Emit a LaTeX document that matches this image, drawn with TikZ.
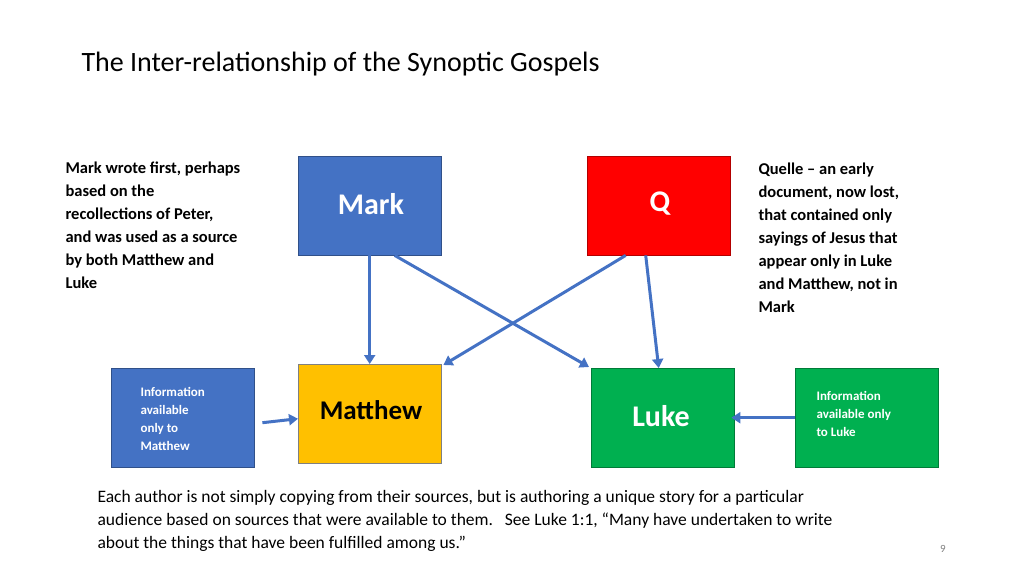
\documentclass[tikz,border=0pt]{standalone}
\usepackage{fontspec}
\setmainfont{Carlito}
\usetikzlibrary{arrows.meta}
\definecolor{slblue}{HTML}{4472C4}
\definecolor{slred}{HTML}{FF0000}
\definecolor{slgold}{HTML}{FFC000}
\definecolor{slgreen}{HTML}{00B050}
\begin{document}
\begin{tikzpicture}[
    x=1pt, y=-1pt,
    % slide boxes
    box/.style={draw=#1!70!black, fill=#1, minimum width=143pt, minimum height=99pt, inner sep=0pt},
    big/.style={font=\fontsize{30}{34}\selectfont\bfseries, text=white},
    info/.style={font=\fontsize{13}{18}\selectfont\bfseries, text=white, align=left, anchor=north west},
    note/.style={font=\fontsize{16.5}{23}\selectfont\bfseries, align=left, anchor=north west},
    link/.style={draw=slblue, line width=3pt, -{Triangle[length=9pt,width=11pt]}}
]
\useasboundingbox (0,0) rectangle (1024,576);

% --- Title ---
\node[anchor=west, font=\fontsize{28}{32}\selectfont] (title) at (78,64) {The Inter-relationship of the Synoptic Gospels};

% --- Sources ---
\node[box=slblue, anchor=north west] (mark) at (298,156) {};
\node[big] at (371,204) {Mark};
\node[box=slred, anchor=north west] (q) at (587,156) {};
\node[big] at (660,204) {Q};

% --- Gospels ---
\node[box=slgold, draw=gray, anchor=north west] (matthew) at (298,364) {};
\node[font=\fontsize{27}{30}\selectfont\bfseries] at (371,410) {Matthew};
\node[box=slgreen, anchor=north west] (luke) at (591,368) {};
\node[big] at (661,416) {Luke};

% --- Special material ---
\node[box=slblue, anchor=north west] (infomt) at (111,368) {};
\node[info] at (137,384) {Information\\available\\only to\\Matthew};
\node[box=slgreen, anchor=north west] (infolk) at (795,368) {};
\node[info] at (813,388) {Information\\available only\\to Luke};

% --- Arrows ---
\draw[link] (mark.south) -- (matthew.north);
\draw[link] ([xshift=25pt]mark.south) -- ([xshift=-2pt,yshift=1pt]luke.north west);
\draw[link] ([xshift=-33pt]q.south) -- ([xshift=2pt,yshift=-1pt]matthew.north east);
\draw[link] ([xshift=-13pt]q.south) -- ([xshift=-4pt]luke.north);
\draw[link] ([xshift=8pt,yshift=-5pt]infomt.east) -- ([yshift=-5pt]matthew.west);
\draw[link] (infolk.west) -- ([xshift=-3pt]luke.east);

% --- Notes ---
\node[note] (lnote) at (62,158) {Mark wrote first, perhaps\\based on the\\recollections of Peter,\\and was used as a source\\by both Matthew and\\Luke};
\node[note] (rnote) at (755,159) {Quelle -- an early\\document, now lost,\\that contained only\\sayings of Jesus that\\appear only in Luke\\and Matthew, not in\\Mark};
\node[note, font=\fontsize{17.5}{23}\selectfont] (bnote) at (94,487) {Each author is not simply copying from their sources, but is authoring a unique story for a particular\\audience based on sources that were available to them.~~~See Luke 1:1, “Many have undertaken to write\\about the things that have been fulfilled among us.”};
\node[font=\fontsize{11}{13}\selectfont, text=gray] (page) at (943,549) {9};
\end{tikzpicture}
\end{document}
